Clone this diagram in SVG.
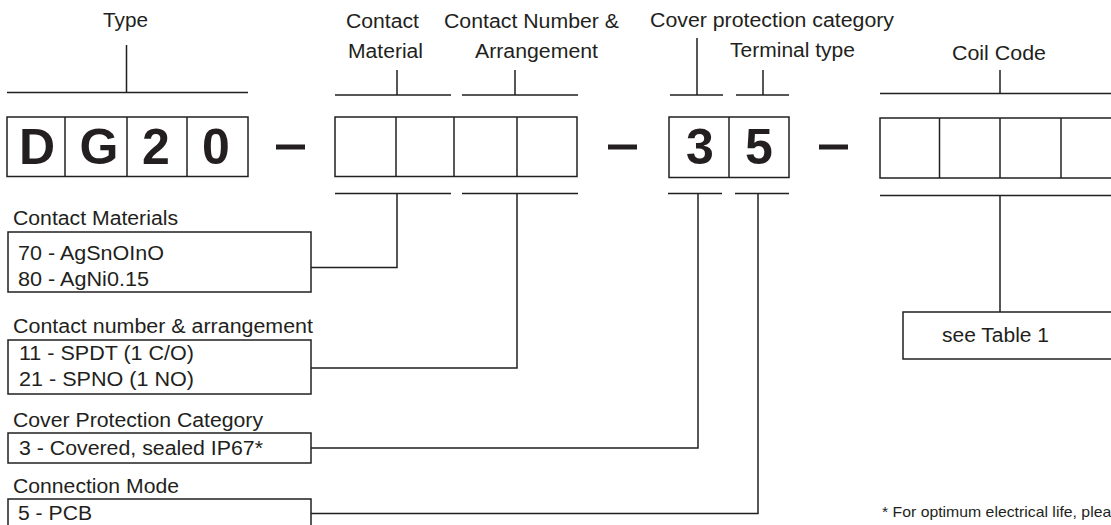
<svg xmlns="http://www.w3.org/2000/svg" width="1111" height="525" viewBox="0 0 1111 525">
<style>
.ln{stroke:#231f20;stroke-width:1.5;fill:none}
.bx{stroke:#231f20;stroke-width:1.5;fill:#fff}
.t{font-family:"Liberation Sans",Arial,sans-serif;font-size:19.5px;fill:#231f20}
.big{font-family:"Liberation Sans",Arial,sans-serif;font-size:50px;font-weight:bold;fill:#231f20;text-anchor:middle}
.dash{fill:#231f20}
</style>
<rect width="1111" height="525" fill="#fff"/>
<g id="type">
<text class="t" x="103" y="27" textLength="45" lengthAdjust="spacingAndGlyphs">Type</text>
<rect class="bx" x="7" y="117" width="241" height="59.5"/>
<line class="ln" x1="65" y1="117" x2="65" y2="176.5"/>
<line class="ln" x1="127" y1="117" x2="127" y2="176.5"/>
<line class="ln" x1="187" y1="117" x2="187" y2="176.5"/>
<text class="big" x="37" y="164">D</text>
<text class="big" x="99" y="164">G</text>
<text class="big" x="156" y="164">2</text>
<text class="big" x="216" y="164">0</text>
</g>
<g id="dash1"><rect class="dash" x="276" y="144.5" width="29" height="5"/></g>
<g id="contact-material">
<text class="t" x="346" y="28" textLength="73" lengthAdjust="spacingAndGlyphs">Contact</text>
<text class="t" x="348" y="58" textLength="75" lengthAdjust="spacingAndGlyphs">Material</text>
<rect class="bx" x="335" y="117" width="242" height="59.5"/>
<line class="ln" x1="396" y1="117" x2="396" y2="176.5"/>
<line class="ln" x1="454" y1="117" x2="454" y2="176.5"/>
<line class="ln" x1="517" y1="117" x2="517" y2="176.5"/>
</g>
<g id="contact-number">
<text class="t" x="444" y="28" textLength="175" lengthAdjust="spacingAndGlyphs">Contact Number &amp;</text>
<text class="t" x="475" y="58" textLength="123" lengthAdjust="spacingAndGlyphs">Arrangement</text>
</g>
<g id="dash2"><rect class="dash" x="608" y="144.5" width="29" height="5"/></g>
<g id="cover-terminal">
<text class="t" x="650" y="26.5" textLength="244" lengthAdjust="spacingAndGlyphs">Cover protection category</text>
<text class="t" x="730" y="57" textLength="125" lengthAdjust="spacingAndGlyphs">Terminal type</text>
<rect class="bx" x="669" y="117" width="120" height="60.5"/>
<line class="ln" x1="729" y1="117" x2="729" y2="177.5"/>
<text class="big" x="700" y="163.5">3</text>
<text class="big" x="759" y="163.5">5</text>
</g>
<g id="dash3"><rect class="dash" x="819" y="144.5" width="29" height="5"/></g>
<g id="coil-code">
<text class="t" x="952" y="59.5" textLength="94" lengthAdjust="spacingAndGlyphs">Coil Code</text>
<rect class="bx" x="880" y="118" width="245" height="60"/>
<line class="ln" x1="939.5" y1="118" x2="939.5" y2="178"/>
<line class="ln" x1="1000" y1="118" x2="1000" y2="178"/>
<line class="ln" x1="1061" y1="118" x2="1061" y2="178"/>
</g>
<g id="contact-materials">
<text class="t" x="13" y="225" textLength="165" lengthAdjust="spacingAndGlyphs">Contact Materials</text>
<rect class="bx" x="8" y="232" width="303" height="60"/>
<text class="t" x="18" y="260" textLength="146" lengthAdjust="spacingAndGlyphs">70 - AgSnOInO</text>
<text class="t" x="18" y="286" textLength="131" lengthAdjust="spacingAndGlyphs">80 - AgNi0.15</text>
</g>
<g id="contact-arrangement">
<text class="t" x="13" y="333" textLength="300" lengthAdjust="spacingAndGlyphs">Contact number &amp; arrangement</text>
<rect class="bx" x="8" y="340" width="303" height="54"/>
<text class="t" x="19" y="360" textLength="175" lengthAdjust="spacingAndGlyphs">11 - SPDT (1 C/O)</text>
<text class="t" x="19" y="386" textLength="175" lengthAdjust="spacingAndGlyphs">21 - SPNO (1 NO)</text>
</g>
<g id="cover-protection">
<text class="t" x="13" y="426.5" textLength="250" lengthAdjust="spacingAndGlyphs">Cover Protection Category</text>
<rect class="bx" x="8" y="433" width="303" height="30"/>
<text class="t" x="19" y="455" textLength="244" lengthAdjust="spacingAndGlyphs">3 - Covered, sealed IP67*</text>
</g>
<g id="connection-mode">
<text class="t" x="13" y="492.5" textLength="166" lengthAdjust="spacingAndGlyphs">Connection Mode</text>
<rect class="bx" x="8" y="499" width="303" height="32"/>
<text class="t" x="18" y="520" textLength="74" lengthAdjust="spacingAndGlyphs">5 - PCB</text>
</g>
<g id="see-table">
<rect class="bx" x="903" y="312" width="230" height="47"/>
<text class="t" x="942" y="341.5" textLength="107" lengthAdjust="spacingAndGlyphs">see Table 1</text>
</g>
<g id="footnote">
<text class="t" transform="translate(882,517) scale(1.13,1)" style="font-size:14px">* For optimum electrical life, please</text>
</g>
<g id="connectors">
<path class="ln" d="M7 92.5H248M126.5 45V92.5"/>
<path class="ln" d="M335 95H451M397 70V95"/>
<path class="ln" d="M462 95H578M515 70V95"/>
<path class="ln" d="M670 95H723M697 38V95"/>
<path class="ln" d="M736 95H789M763 70V95"/>
<path class="ln" d="M880 93.5H1111M1000 70V93.5"/>
<path class="ln" d="M335 193.5H451M397 193.5V267.5H311"/>
<path class="ln" d="M462 193.5H578M517 193.5V368H311"/>
<path class="ln" d="M668 193.5H722M698 193.5V448H311"/>
<path class="ln" d="M735 193.5H789M758 193.5V513.5H311"/>
<path class="ln" d="M880 195.5H1111M1000 195.5V312"/>
</g>
</svg>
